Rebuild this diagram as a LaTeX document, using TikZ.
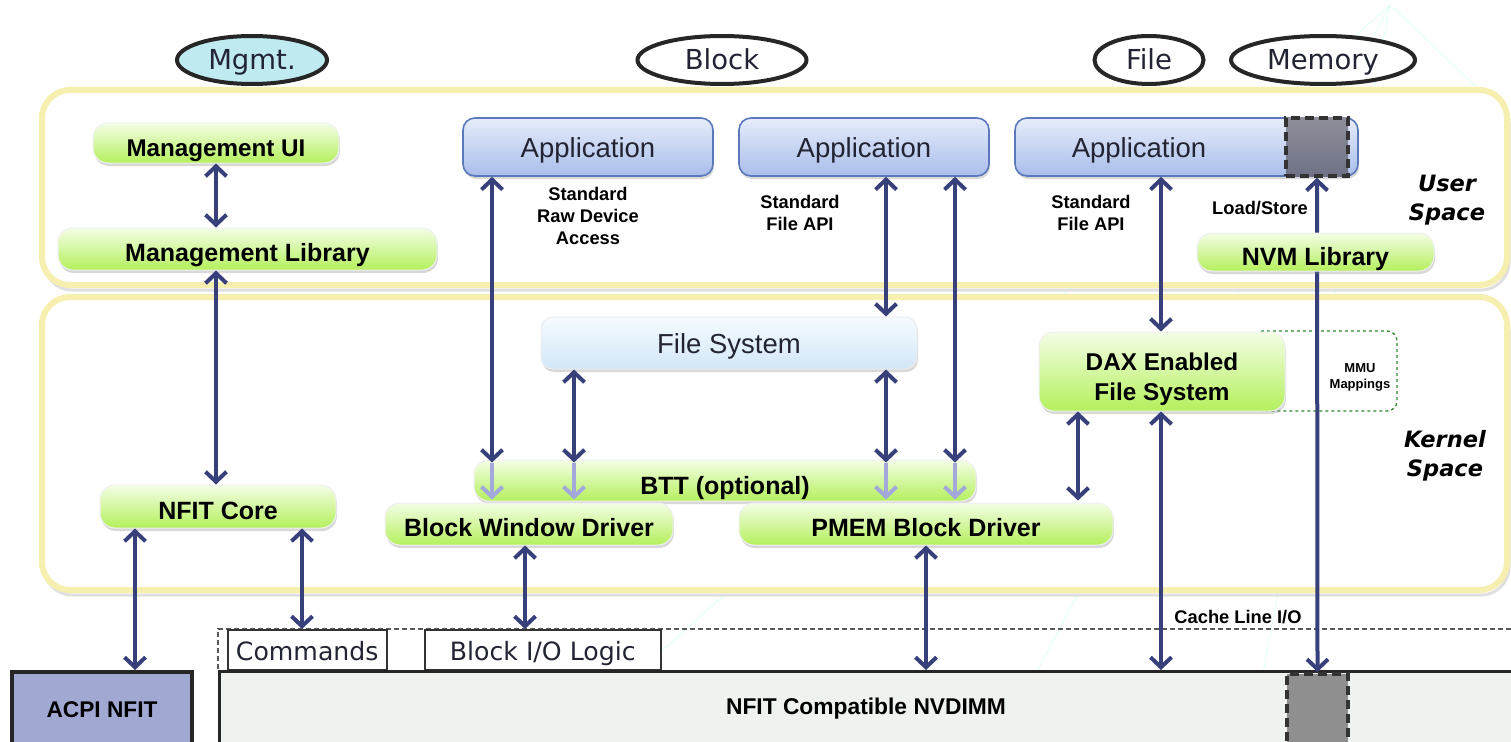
\documentclass[tikz,border=0pt]{standalone}
\usepackage{fontspec}
\setmainfont{Liberation Sans}
\newfontfamily\verd{DejaVu Sans}
\usetikzlibrary{arrows.meta,shapes.geometric,shadows}
\definecolor{gtop}{HTML}{F4FEE6}
\definecolor{gbot}{HTML}{B4F05C}
\definecolor{atop}{HTML}{E6ECFA}
\definecolor{abot}{HTML}{A9BEEB}
\definecolor{aline}{HTML}{5B79BA}
\definecolor{ftop}{HTML}{F6FBFF}
\definecolor{fbot}{HTML}{D2E7F8}
\definecolor{arrowc}{HTML}{37407A}
\definecolor{lightarr}{HTML}{A3A8DA}
\definecolor{panely}{HTML}{F6EFAF}
\definecolor{mgmtc}{HTML}{BFEAF0}
\definecolor{acpic}{HTML}{A1A9D3}
\definecolor{nvfill}{HTML}{EEF3EF}
\definecolor{txt}{HTML}{222433}
\definecolor{mmuc}{HTML}{2E8B2E}
\definecolor{sqtop}{HTML}{8E8E9A}
\definecolor{sqbot}{HTML}{6E7284}
\definecolor{sqgray}{HTML}{8F8F8F}
\newcommand{\fsz}[2]{\fontsize{#1}{#2}\selectfont}
\tikzset{
  every node/.style={inner sep=0pt, text=black},
  th/.style={text height=#1, text depth=0pt},
  panelbox/.style={draw=panely, line width=6pt, rounded corners=28pt, fill=white},
  panelshadow/.style={draw=gray!25, line width=3pt, rounded corners=28pt},
  gbox/.style={rounded corners=15pt, top color=gtop, bottom color=gbot, draw=white!88!gray, line width=1pt,
     font=\bfseries\fsz{25}{30}, drop shadow={shadow xshift=1pt, shadow yshift=-3pt, opacity=.3, fill=gray}},
  appbox/.style={rounded corners=12pt, top color=atop, bottom color=abot, draw=aline, line width=1.6pt,
     font=\fsz{27.5}{32}, text=txt, minimum height=58, th=20.7pt, drop shadow={shadow xshift=1pt, shadow yshift=-3pt, opacity=.3, fill=gray}},
  fsbox/.style={rounded corners=12pt, top color=ftop, bottom color=fbot, draw=white!85!gray, line width=1pt,
     font=\fsz{27.5}{32}, text=txt, th=21.7pt, drop shadow={shadow xshift=1pt, shadow yshift=-3pt, opacity=.3, fill=gray}},
  oval/.style={ellipse, draw=black!85, line width=4pt, font=\verd\fsz{27.5}{32}, text=txt, th=20pt},
  lbl/.style={font=\bfseries\fsz{18.3}{22}, align=center},
  spacelbl/.style={font=\verd\bfseries\itshape\fsz{22.5}{28.5}, align=center},
  arr/.style={draw=arrowc, line width=4pt, {Straight Barb[length=10pt,width=21pt]}-{Straight Barb[length=10pt,width=21pt]}},
  larr/.style={draw=lightarr, line width=4pt, -{Straight Barb[length=10pt,width=21pt]}},
  iobox/.style={draw=black!80, line width=1.5pt, fill=white, font=\verd\fsz{25.2}{30}, text=txt, anchor=north west, minimum height=40, th=22.4pt},
  graysq/.style={draw=black!80, line width=3.5pt, dash pattern=on 9pt off 5pt},
}
\begin{document}
\begin{tikzpicture}[x=1pt,y=-1pt]
\useasboundingbox (0,0) rectangle (1511,741);
\fill[white] (0,0) rectangle (1511,741);
% faint background lines
\draw[green!40!cyan, opacity=.12, line width=0.8pt] (1390,5) -- (1000,741) (1390,5) -- (560,741) (1390,5) -- (1511,120) (1390,5) -- (1250,741);
% panels
\draw[panelshadow] (44,95) rectangle (1509,290);
\draw[panelbox] (42,90) rectangle (1507,285);
\draw[panelshadow] (44,302) rectangle (1509,595);
\draw[panelbox] (42,297) rectangle (1507,590);
% guide coordinates
\coordinate (xa) at (216,0);
\coordinate (xb) at (492,0);
\coordinate (xc) at (574,0);
\coordinate (xd) at (886,0);
\coordinate (xe) at (955,0);
\coordinate (xf) at (1161,0);
\coordinate (xg) at (1078,0);
\coordinate (xi) at (135,0);
\coordinate (xj) at (302,0);
\coordinate (xk) at (525,0);
\coordinate (xl) at (926,0);
% ovals
\node[oval, fill=mgmtc, minimum width=150, minimum height=48] (mgmt) at (252,60) {Mgmt.};
\node[oval, fill=white, minimum width=169, minimum height=48] (block) at (722,60) {Block};
\node[oval, fill=white, minimum width=109, minimum height=48] (file) at (1149,60) {File};
\node[oval, fill=white, minimum width=184, minimum height=48] (memory) at (1323,60) {Memory};
% user space
\node[gbox, font=\bfseries\fsz{24.2}{28}, th=27.3pt, minimum width=246, minimum height=40] (mui) at (216,143) {Management UI};
\node[gbox, th=25.9pt, minimum width=379, minimum height=42] (mlib) at (247.5,249) {Management Library};
\node[appbox, minimum width=250] (app1) at (588,147) {Application};
\node[appbox, minimum width=250] (app2) at (864,147) {Application};
\node[appbox, minimum width=343] (app3) at (1186.5,147) {};
\node[font=\fsz{27.5}{32}, text=txt, th=20.7pt] (app3t) at (1139,147) {Application};
\node[graysq, top color=sqtop, bottom color=sqbot, minimum width=62, minimum height=58] (sq1) at (1317,147) {};
\node[lbl] (lraw) at (588,216) {Standard\\Raw Device\\Access};
\node[lbl] (lapi1) at (800,212.5) {Standard\\File API};
\node[lbl] (lapi2) at (1091,212.5) {Standard\\File API};
\node[lbl] (lls) at (1260,208) {Load/Store};
\node[spacelbl] (us) at (1447,200) {User\\Space};
% kernel space
\node[fsbox, minimum width=376, minimum height=52] (fs) at (729,343) {File System};
\draw[mmuc, dashed, line width=1.3pt, rounded corners=10pt] (1253,331) rectangle (1397,411);
\node[font=\bfseries\fsz{13}{16}, align=center] (mmu) at (1360,377) {MMU\\Mappings};
\node[gbox, minimum width=246, minimum height=79] (dax) at (1162,371.5) {};
\node[align=center, font=\bfseries\fsz{24.3}{30}] (daxt) at (1162,379.5) {DAX Enabled\\File System};
\node[spacelbl] (ks) at (1445,456) {Kernel\\Space};
\node[gbox, th=26.9pt, minimum width=236, minimum height=43] (nfit) at (218,506.5) {NFIT Core};
\node[gbox, th=28.9pt, minimum width=502, minimum height=41] (btt) at (725,480.5) {BTT (optional)};
\node[gbox, th=24.9pt, minimum width=288, minimum height=42] (bwd) at (529,524) {Block Window Driver};
\node[gbox, th=24.9pt, minimum width=374, minimum height=42] (pmem) at (926,524) {PMEM Block Driver};
% hardware
\draw[gray!70!black, line width=1.3pt, dash pattern=on 5pt off 3pt] (218,669) -- (218,629) -- (1515,629);
\node[iobox, minimum width=159] (cmd) at (227,629) {Commands};
\node[iobox, minimum width=236] (bio) at (424,629) {Block I/O Logic};
\node[draw=black!85, line width=4pt, fill=acpic, minimum width=180, minimum height=78, anchor=north west, font=\bfseries\fsz{22.7}{26}, th=12.3pt] (acpi) at (10,670) {ACPI NFIT};
\node[draw=black!85, line width=3pt, fill=nvfill, minimum width=1298, minimum height=78, anchor=north west] (nvdimm) at (218,670) {};
\node[font=\bfseries\fsz{22.8}{26}, th=16.3pt] (nvt) at (866,706.5) {NFIT Compatible NVDIMM};
\node[graysq, fill=sqgray, minimum width=61, minimum height=72, anchor=north] (sq2) at (1317.5,672) {};
\node[font=\bfseries\fsz{18.3}{22}] (cli) at (1238,617) {Cache Line I/O};
% memory arrow (behind NVM Library)
\draw[arr] (sq1.south) -- (sq2.north);
\node[gbox, th=27.9pt, minimum width=237, minimum height=38] (nvm) at (1315.5,252) {NVM Library};
% arrows
\draw[arr] (mui.south -| xa) -- (mlib.north -| xa);
\draw[arr] (mlib.south -| xa) -- (nfit.north -| xa);
\draw[arr] (app1.south -| xb) -- ([yshift=-3pt]btt.north -| xb);
\draw[arr] (fs.south -| xc) -- ([yshift=-3pt]btt.north -| xc);
\draw[arr] (app2.south -| xd) -- (fs.north -| xd);
\draw[arr] (fs.south -| xd) -- ([yshift=-3pt]btt.north -| xd);
\draw[arr] (app2.south -| xe) -- ([yshift=-3pt]btt.north -| xe);
\draw[larr] ([yshift=-3pt]btt.north -| xb) -- ([yshift=2pt]btt.south -| xb);
\draw[larr] ([yshift=-3pt]btt.north -| xc) -- ([yshift=2pt]btt.south -| xc);
\draw[larr] ([yshift=-3pt]btt.north -| xd) -- ([yshift=2pt]btt.south -| xd);
\draw[larr] ([yshift=-3pt]btt.north -| xe) -- ([yshift=2pt]btt.south -| xe);
\draw[arr] (app3.south -| xf) -- (dax.north -| xf);
\draw[arr] (dax.south -| xg) -- ([yshift=2pt]pmem.north -| xg);
\draw[arr] (dax.south -| xf) -- (nvdimm.north -| xf);
\draw[arr] (nfit.south -| xi) -- (acpi.north -| xi);
\draw[arr] (nfit.south -| xj) -- (cmd.north -| xj);
\draw[arr] (bwd.south -| xk) -- (bio.north -| xk);
\draw[arr] (pmem.south -| xl) -- (nvdimm.north -| xl);
\end{tikzpicture}
\end{document}
